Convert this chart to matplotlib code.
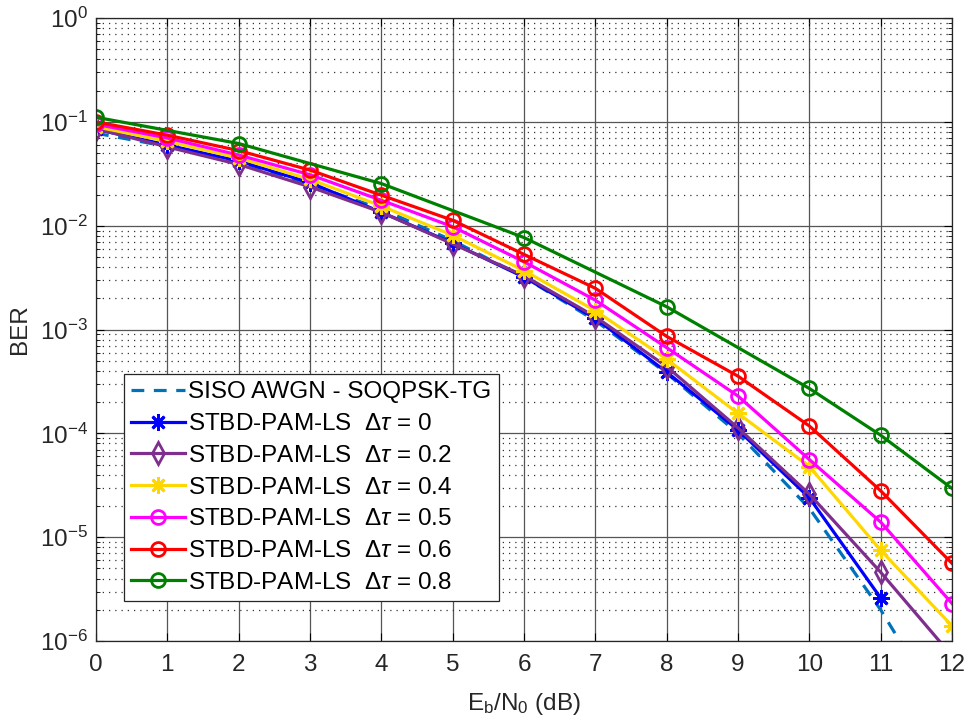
import matplotlib
matplotlib.use("Agg")
import matplotlib.pyplot as plt
from matplotlib.ticker import LogLocator, NullFormatter, MultipleLocator
import numpy as np

plt.rcParams['font.family'] = ['Liberation Sans', 'DejaVu Sans']
plt.rcParams['mathtext.fontset'] = 'custom'
plt.rcParams['mathtext.rm'] = 'Liberation Sans'
plt.rcParams['mathtext.it'] = 'Liberation Sans:italic'

ebn0 = [0, 1, 2, 3, 4, 5, 6, 7, 8, 9, 10, 11, 12]
ebn0_blue = [0, 1, 2, 3, 4, 5, 6, 7, 8, 9, 10, 11]
ebn0_green = [0, 2, 4, 6, 8, 10, 11, 12]

ber_siso = [0.078, 0.058, 0.041, 0.025, 0.0145, 0.0072, 0.0032, 0.00122, 0.00038, 1.0e-4, 1.9e-5, 2.0e-6, 1.5e-7]
ber_0 = [0.085, 0.060, 0.042, 0.026, 0.0135, 0.0068, 0.0032, 0.00128, 0.00039, 1.08e-4, 2.4e-5, 2.6e-6]
ber_02 = [0.086, 0.0575, 0.039, 0.0237, 0.0135, 0.0067, 0.0033, 0.00133, 0.00044, 1.13e-4, 2.6e-5, 4.6e-6, 7.2e-7]
ber_04 = [0.090, 0.065, 0.045, 0.028, 0.0155, 0.0081, 0.0037, 0.00152, 0.00052, 1.56e-4, 4.8e-5, 7.5e-6, 1.4e-6]
ber_05 = [0.095, 0.070, 0.048, 0.031, 0.0176, 0.0098, 0.0045, 0.00192, 0.00067, 2.29e-4, 5.6e-5, 1.4e-5, 2.3e-6]
ber_06 = [0.100, 0.0746, 0.053, 0.0344, 0.0197, 0.0113, 0.0053, 0.0025, 0.00086, 3.56e-4, 1.18e-4, 2.8e-5, 5.6e-6]
ber_08 = [0.111, 0.062, 0.0255, 0.0077, 0.00166, 2.71e-4, 9.6e-5, 2.95e-5]

labels = [
    'SISO AWGN - SOQPSK-TG',
    r'STBD-PAM-LS  $\Delta\tau$ = 0',
    r'STBD-PAM-LS  $\Delta\tau$ = 0.2',
    r'STBD-PAM-LS  $\Delta\tau$ = 0.4',
    r'STBD-PAM-LS  $\Delta\tau$ = 0.5',
    r'STBD-PAM-LS  $\Delta\tau$ = 0.6',
    r'STBD-PAM-LS  $\Delta\tau$ = 0.8',
]

fig = plt.figure(figsize=(9.67, 7.26), dpi=100)
ax = fig.add_axes([0.0993, 0.117, 0.8852, 0.858])

lw = 2.3
ms = 10
mew = 2.0
ast = (8, 2, 0)

ax.semilogy(ebn0, ber_siso, '--', color='#0072BD', lw=lw, dashes=(4, 3), label=labels[0])
ax.semilogy(ebn0_blue, ber_0, '-', color='#0000FF', lw=lw, marker=ast, ms=ms + 2, mew=mew, label=labels[1])
ax.semilogy(ebn0, ber_02, '-', color='#7E2F8E', lw=lw, marker='d', ms=ms + 1, mew=mew, mfc='none', label=labels[2])
ax.semilogy(ebn0, ber_04, '-', color='#FFD700', lw=lw, marker=ast, ms=ms + 2, mew=mew, label=labels[3])
ax.semilogy(ebn0, ber_05, '-', color='#FF00FF', lw=lw, marker='o', ms=ms, mew=mew, mfc='none', label=labels[4])
ax.semilogy(ebn0, ber_06, '-', color='#FF0000', lw=lw, marker='o', ms=ms, mew=mew, mfc='none', label=labels[5])
ax.semilogy(ebn0_green, ber_08, '-', color='#008000', lw=lw, marker='o', ms=ms, mew=mew, mfc='none', label=labels[6])

ax.set_xlim(0, 12)
ax.set_ylim(1e-6, 1)
ax.xaxis.set_major_locator(MultipleLocator(1))
ax.yaxis.set_major_locator(LogLocator(base=10, numticks=20))
ax.yaxis.set_minor_locator(LogLocator(base=10, subs=np.arange(2, 10), numticks=20))
ax.yaxis.set_minor_formatter(NullFormatter())
ax.xaxis.get_offset_text().set_visible(False)
ax.yaxis.get_offset_text().set_visible(False)

ax.grid(True, which='major', color='#555555', lw=0.9, ls='-')
ax.grid(True, which='minor', axis='y', color='#333333', lw=0.9, ls=(0, (1, 4)))
ax.set_axisbelow(True)

ax.tick_params(which='both', direction='in', top=True, right=True, labelsize=17.5, labelcolor='#262626')
ax.tick_params(axis='x', which='major', length=6, pad=9)
ax.tick_params(axis='y', which='major', length=6, pad=6)
ax.tick_params(which='minor', length=3)
for s in ax.spines.values():
    s.set_color('#262626')
    s.set_linewidth(0.9)

ax.set_xlabel(r'E$_\mathregular{b}$/N$_\mathregular{0}$ (dB)', fontsize=17.5, color='#262626', labelpad=11)
ax.set_ylabel('BER', fontsize=17.5, color='#262626', labelpad=6)

leg = ax.legend(loc='lower left', bbox_to_anchor=(0.0327, 0.064), fontsize=17.5,
                handlelength=2.2, handletextpad=0.15, labelspacing=0.4,
                borderpad=0.3, borderaxespad=0, fancybox=False, framealpha=1, edgecolor='#262626')
leg.get_frame().set_linewidth(0.9)

fig.savefig('out.png', dpi=100)
